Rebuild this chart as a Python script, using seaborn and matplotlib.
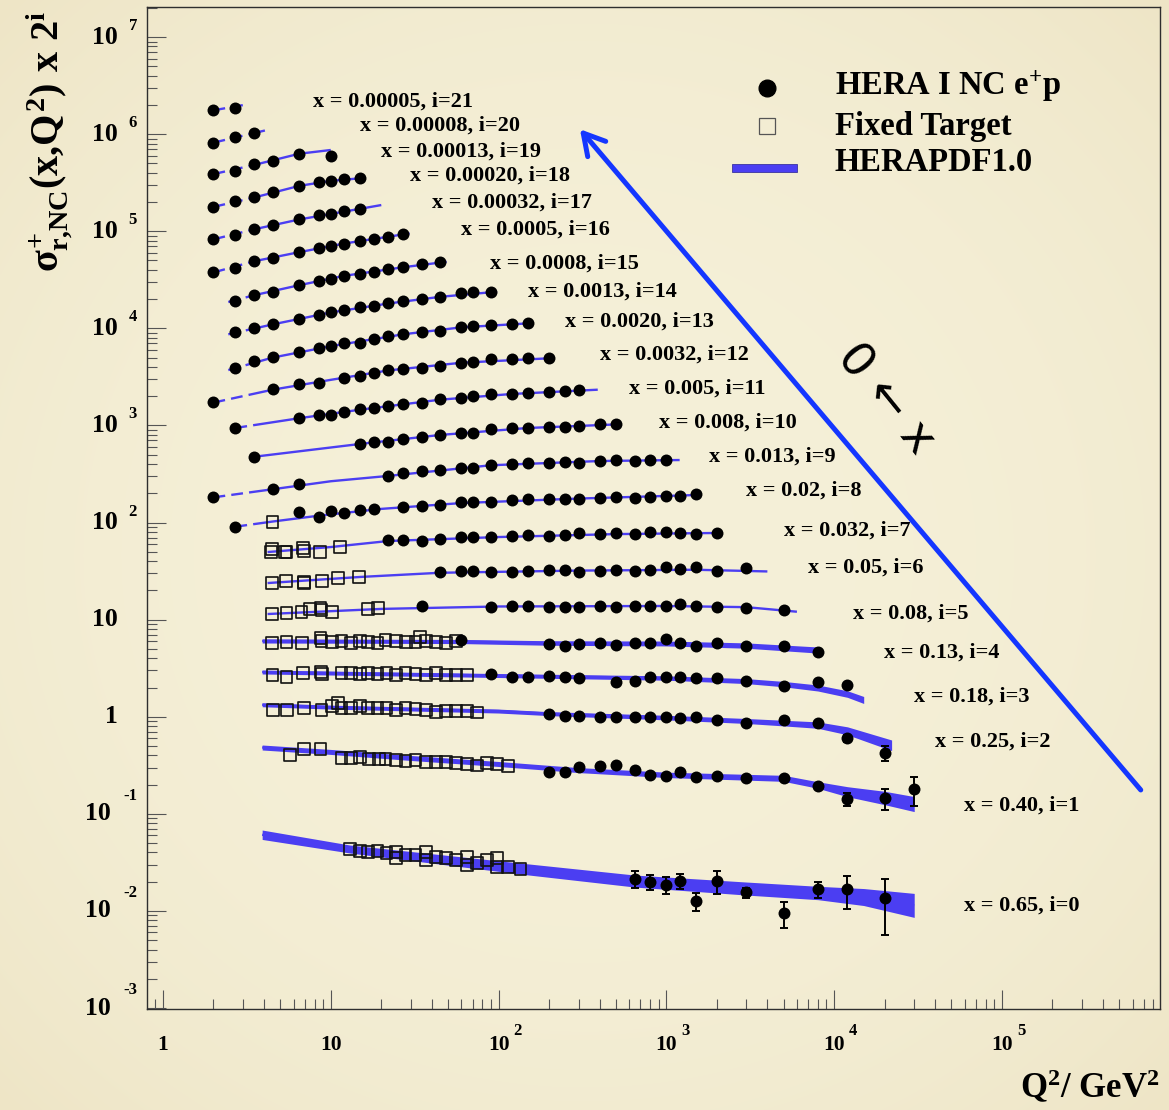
import numpy as np
import pandas as pd
import matplotlib
matplotlib.use("Agg")
import matplotlib.pyplot as plt
import matplotlib.transforms as mtransforms
from matplotlib.patches import Rectangle
from matplotlib.ticker import LogLocator, NullFormatter, FixedLocator
import seaborn as sns

# ---------------------------------------------------------------------------
# Bjorken-x of each bin, keyed by the scale index i (plotted value = sigma * 2**i)
X_BINS = {21: "0.00005", 20: "0.00008", 19: "0.00013", 18: "0.00020", 17: "0.00032",
          16: "0.0005", 15: "0.0008", 14: "0.0013", 13: "0.0020", 12: "0.0032",
          11: "0.005", 10: "0.008", 9: "0.013", 8: "0.02", 7: "0.032", 6: "0.05",
          5: "0.08", 4: "0.13", 3: "0.18", 2: "0.25", 1: "0.40", 0: "0.65"}

# HERA I NC e+p reduced cross sections: Q2 (GeV^2) and sigma_r
HERA_Q2 = {
    21: [2.0, 2.7],
    20: [2.0, 2.7, 3.5],
    19: [2.0, 2.7, 3.5, 4.5, 6.5, 10],
    18: [2.0, 2.7, 3.5, 4.5, 6.5, 8.5, 10, 12, 15],
    17: [2.0, 2.7, 3.5, 4.5, 6.5, 8.5, 10, 12, 15],
    16: [2.0, 2.7, 3.5, 4.5, 6.5, 8.5, 10, 12, 15, 18, 22, 27],
    15: [2.7, 3.5, 4.5, 6.5, 8.5, 10, 12, 15, 18, 22, 27, 35, 45],
    14: [2.7, 3.5, 4.5, 6.5, 8.5, 10, 12, 15, 18, 22, 27, 35, 45, 60, 70, 90],
    13: [2.7, 3.5, 4.5, 6.5, 8.5, 10, 12, 15, 18, 22, 27, 35, 45, 60, 70, 90, 120, 150],
    12: [2.0, 4.5, 6.5, 8.5, 12, 15, 18, 22, 27, 35, 45, 60, 70, 90, 120, 150, 200],
    11: [2.7, 6.5, 8.5, 10, 12, 15, 18, 22, 27, 35, 45, 60, 70, 90, 120, 150, 200, 250, 300],
    10: [3.5, 15, 18, 22, 27, 35, 45, 60, 70, 90, 120, 150, 200, 250, 300, 400, 500],
    9: [2.0, 4.5, 6.5, 22, 27, 35, 45, 60, 70, 90, 120, 150, 200, 250, 300, 400, 500, 650,
        800, 1000],
    8: [2.7, 6.5, 8.5, 10, 12, 15, 18, 27, 35, 45, 60, 70, 90, 120, 150, 200, 250, 300, 400,
        500, 650, 800, 1000, 1200, 1500],
    7: [22, 27, 35, 45, 60, 70, 90, 120, 150, 200, 250, 300, 400, 500, 650, 800, 1000, 1200,
        1500, 2000],
    6: [45, 60, 70, 90, 120, 150, 200, 250, 300, 400, 500, 650, 800, 1000, 1200, 1500, 2000,
        3000],
    5: [35, 90, 120, 150, 200, 250, 300, 400, 500, 650, 800, 1000, 1200, 1500, 2000, 3000,
        5000],
    4: [60, 200, 250, 300, 400, 500, 650, 800, 1000, 1200, 1500, 2000, 3000, 5000, 8000],
    3: [90, 120, 150, 200, 250, 300, 500, 650, 800, 1000, 1200, 1500, 2000, 3000, 5000, 8000,
        12000],
    2: [200, 250, 300, 400, 500, 650, 800, 1000, 1200, 1500, 2000, 3000, 5000, 8000, 12000,
        20000],
    1: [200, 250, 300, 400, 500, 650, 800, 1000, 1200, 1500, 2000, 3000, 5000, 8000, 12000,
        20000, 30000],
    0: [650, 800, 1000, 1200, 1500, 2000, 3000, 5000, 8000, 12000, 20000],
}
HERA_SIGMA = {
    21: [0.845, 0.886],
    20: [0.772, 0.891, 0.979],
    19: [0.740, 0.794, 0.938, 1.007, 1.189, 1.134],
    18: [0.682, 0.782, 0.853, 0.967, 1.122, 1.218, 1.256, 1.307, 1.339],
    17: [0.634, 0.697, 0.798, 0.884, 1.012, 1.112, 1.140, 1.233, 1.300],
    16: [0.575, 0.641, 0.752, 0.802, 0.925, 1.016, 1.081, 1.135, 1.218, 1.276, 1.339, 1.416],
    15: [0.588, 0.668, 0.718, 0.853, 0.938, 0.984, 1.057, 1.107, 1.169, 1.239, 1.298, 1.403,
         1.472],
    14: [0.564, 0.611, 0.671, 0.762, 0.837, 0.893, 0.942, 1.019, 1.035, 1.104, 1.167, 1.224,
         1.291, 1.400, 1.445, 1.434],
    13: [0.480, 0.566, 0.614, 0.690, 0.760, 0.802, 0.855, 0.867, 0.946, 1.016, 1.059, 1.109,
         1.153, 1.250, 1.288, 1.318, 1.343, 1.374],
    12: [0.422, 0.574, 0.646, 0.671, 0.755, 0.787, 0.839, 0.908, 0.923, 0.957, 1.005, 1.079,
         1.104, 1.169, 1.190, 1.197, 1.203],
    11: [0.456, 0.586, 0.625, 0.625, 0.667, 0.716, 0.743, 0.774, 0.805, 0.838, 0.908, 0.942,
         0.989, 1.021, 1.028, 1.047, 1.086, 1.104, 1.132],
    10: [0.465, 0.628, 0.654, 0.654, 0.703, 0.746, 0.778, 0.822, 0.809, 0.891, 0.912, 0.925,
         0.933, 0.946, 0.964, 1.002, 1.002],
    9: [0.355, 0.429, 0.483, 0.588, 0.635, 0.662, 0.678, 0.706, 0.706, 0.764, 0.782, 0.794,
        0.794, 0.813, 0.805, 0.839, 0.859, 0.839, 0.859, 0.859],
    8: [0.354, 0.498, 0.449, 0.518, 0.486, 0.526, 0.535, 0.569, 0.582, 0.592, 0.631, 0.640,
        0.640, 0.667, 0.678, 0.682, 0.682, 0.687, 0.705, 0.721, 0.705, 0.721, 0.741, 0.733,
        0.760],
    7: [0.516, 0.516, 0.507, 0.528, 0.550, 0.558, 0.550, 0.571, 0.581, 0.571, 0.581, 0.605,
        0.594, 0.605, 0.594, 0.619, 0.619, 0.610, 0.594, 0.610],
    6: [0.480, 0.498, 0.498, 0.480, 0.480, 0.498, 0.506, 0.506, 0.486, 0.498, 0.506, 0.498,
        0.506, 0.540, 0.515, 0.540, 0.494, 0.527],
    5: [0.435, 0.425, 0.432, 0.435, 0.419, 0.419, 0.425, 0.432, 0.425, 0.435, 0.435, 0.435,
        0.450, 0.435, 0.419, 0.415, 0.393],
    4: [0.385, 0.348, 0.334, 0.348, 0.356, 0.342, 0.356, 0.356, 0.392, 0.361, 0.334, 0.361,
        0.337, 0.337, 0.292],
    3: [0.341, 0.323, 0.323, 0.328, 0.318, 0.315, 0.282, 0.294, 0.318, 0.323, 0.323, 0.315,
        0.310, 0.294, 0.261, 0.286, 0.265],
    2: [0.264, 0.256, 0.256, 0.250, 0.250, 0.246, 0.250, 0.250, 0.244, 0.250, 0.231, 0.214,
        0.231, 0.217, 0.150, 0.107],
    1: [0.134, 0.136, 0.151, 0.156, 0.159, 0.141, 0.126, 0.123, 0.134, 0.121, 0.124, 0.118,
        0.118, 0.0975, 0.0706, 0.0723, 0.0895],
    0: [0.0213, 0.0200, 0.0185, 0.0205, 0.0127, 0.0203, 0.0155, 0.00957, 0.0167, 0.0167,
        0.0135],
}
# total uncertainties where they exceed the marker size
HERA_ERR = {
    2: [0, 0, 0, 0, 0, 0, 0, 0, 0, 0, 0, 0, 0, 0, 0.013, 0.019],
    1: [0, 0, 0, 0, 0, 0, 0, 0, 0, 0, 0, 0, 0, 0.005, 0.0105, 0.018, 0.029],
    0: [0.0042, 0.0034, 0.0036, 0.0037, 0.0026, 0.0054, 0.0018, 0.0029, 0.0032, 0.0063,
        0.0078],
}

# Fixed-target (BCDMS / NMC) measurements
FT_Q2 = {
    8: [4.5],
    7: [4.38, 4.47, 5.32, 5.45, 6.84, 6.91, 8.60, 11.4],
    6: [4.44, 5.40, 6.91, 6.93, 8.88, 11.1, 14.7],
    5: [4.45, 5.45, 6.69, 7.50, 8.68, 8.80, 10.2, 16.7, 19.1],
    4: [4.45, 5.45, 6.77, 8.68, 8.80, 10.2, 11.6, 13.2, 14.9, 16.7, 19.0, 21.2, 24.4, 28.2,
        32.0, 34.2, 37.1, 42.6, 48.8, 56.0],
    3: [4.50, 5.45, 6.84, 8.72, 8.88, 11.6, 13.2, 14.9, 16.7, 19.0, 21.5, 24.4, 27.9, 32.0,
        37.1, 42.6, 48.8, 56.0, 65.1],
    2: [4.52, 5.47, 6.91, 8.80, 10.2, 11.1, 11.6, 13.2, 14.9, 16.7, 19.0, 21.5, 24.4, 27.9,
        32.0, 37.1, 42.6, 48.8, 56.0, 65.1, 74.7],
    1: [5.70, 6.91, 8.68, 11.6, 13.2, 14.9, 16.9, 19.4, 21.2, 24.4, 27.9, 32.0, 37.1, 42.6,
        48.8, 56.0, 65.1, 74.7, 85.7, 98.3, 114],
    0: [13.0, 14.9, 16.7, 19.0, 21.5, 24.4, 24.4, 27.9, 32.0, 37.1, 37.1, 42.6, 48.8, 56.0,
        65.1, 65.1, 74.7, 85.7, 98.3, 98.3, 114, 135],
}
FT_SIGMA = {
    8: [0.393],
    7: [0.385, 0.414, 0.391, 0.385, 0.424, 0.400, 0.385, 0.441],
    6: [0.375, 0.393, 0.384, 0.375, 0.390, 0.422, 0.426],
    5: [0.355, 0.368, 0.377, 0.399, 0.409, 0.393, 0.377, 0.403, 0.409],
    4: [0.361, 0.365, 0.356, 0.401, 0.379, 0.370, 0.379, 0.361, 0.379, 0.370, 0.361, 0.385,
        0.379, 0.370, 0.370, 0.417, 0.379, 0.370, 0.361, 0.379],
    3: [0.336, 0.318, 0.350, 0.363, 0.344, 0.350, 0.350, 0.344, 0.350, 0.344, 0.350, 0.336,
        0.355, 0.344, 0.336, 0.355, 0.336, 0.336, 0.336],
    2: [0.293, 0.293, 0.305, 0.293, 0.322, 0.348, 0.309, 0.309, 0.322, 0.305, 0.305, 0.305,
        0.293, 0.309, 0.300, 0.293, 0.281, 0.286, 0.286, 0.286, 0.277],
    1: [0.202, 0.231, 0.231, 0.189, 0.189, 0.191, 0.184, 0.184, 0.182, 0.179, 0.176, 0.179,
        0.172, 0.170, 0.170, 0.166, 0.163, 0.157, 0.166, 0.162, 0.156],
    0: [0.0431, 0.0417, 0.0401, 0.0414, 0.0392, 0.0401, 0.0348, 0.0377, 0.0377, 0.0407,
        0.0334, 0.0361, 0.0348, 0.0334, 0.0361, 0.0297, 0.0309, 0.0334, 0.0348, 0.0285,
        0.0285, 0.0270],
}

# HERAPDF1.0 prediction: Q2 nodes, central sigma_r and relative band half-width (%)
FIT_Q2 = {
    21: [2.0, 3.0],
    20: [2.0, 4.05],
    19: [2.0, 3.5, 6.5, 10],
    18: [2.0, 3.5, 6.5, 10, 15],
    17: [2.0, 3.5, 6.5, 10, 20],
    16: [2.0, 3.5, 6.5, 12, 29.5],
    15: [2.45, 3.5, 6.5, 12, 27, 49],
    14: [2.45, 4.5, 10, 22, 45, 98],
    13: [2.45, 4.5, 10, 27, 60, 160],
    12: [2.0, 4.5, 10, 22, 60, 200],
    11: [2.7, 6.5, 15, 45, 120, 390],
    10: [3.5, 15, 45, 150, 500],
    9: [2.0, 4.5, 10, 22, 90, 400, 1200],
    8: [2.7, 4.5, 8.5, 20, 60, 300, 1500],
    7: [4.2, 10, 22, 100, 500, 2000],
    6: [4.2, 15, 45, 300, 1500, 4000],
    5: [4.2, 20, 100, 1000, 3000, 6000],
    4: [3.9, 60, 200, 1000, 3000, 8000],
    3: [3.9, 100, 1000, 3000, 5000, 8000, 12000, 15000],
    2: [3.9, 10, 100, 200, 1000, 3000, 5000, 8000, 12000, 22000],
    1: [3.9, 10, 30, 100, 300, 1000, 5000, 8000, 12000, 20000, 30000],
    0: [3.9, 13, 135, 650, 3000, 8000, 15000, 30000],
}
FIT_SIGMA = {
    21: [0.84, 0.95],
    20: [0.78, 1.04],
    19: [0.74, 0.92, 1.20, 1.31],
    18: [0.68, 0.85, 1.12, 1.26, 1.34],
    17: [0.63, 0.80, 1.01, 1.15, 1.42],
    16: [0.575, 0.75, 0.93, 1.14, 1.45],
    15: [0.57, 0.67, 0.85, 1.06, 1.30, 1.48],
    14: [0.53, 0.67, 0.89, 1.10, 1.29, 1.455],
    13: [0.454, 0.61, 0.80, 1.06, 1.25, 1.383],
    12: [0.42, 0.57, 0.72, 0.90, 1.08, 1.20],
    11: [0.46, 0.58, 0.71, 0.90, 1.03, 1.14],
    10: [0.465, 0.63, 0.78, 0.92, 1.0],
    9: [0.355, 0.43, 0.52, 0.59, 0.76, 0.84, 0.86],
    8: [0.354, 0.40, 0.46, 0.54, 0.62, 0.69, 0.75],
    7: [0.388, 0.437, 0.504, 0.554, 0.594, 0.610],
    6: [0.372, 0.43, 0.475, 0.50, 0.51, 0.49],
    5: [0.357, 0.403, 0.427, 0.432, 0.42, 0.377],
    4: [0.377, 0.372, 0.359, 0.355, 0.338, 0.304],
    3: [0.361, 0.332, 0.313, 0.291, 0.271, 0.247, 0.214, 0.186],
    2: [0.332, 0.314, 0.286, 0.269, 0.245, 0.226, 0.215, 0.205, 0.179, 0.127],
    1: [0.241, 0.217, 0.188, 0.163, 0.141, 0.126, 0.116, 0.099, 0.0845, 0.0728, 0.063],
    0: [0.0609, 0.0434, 0.0273, 0.0203, 0.0170, 0.0153, 0.0139, 0.0114],
}
FIT_REL = {
    4: [5.0, 5.0, 5.5, 6.0, 6.5, 7.5],
    3: [4.8, 4.8, 5.3, 6.1, 6.6, 7.4, 8.1, 8.6],
    2: [4.8, 4.8, 4.8, 4.8, 5.6, 6.1, 6.9, 7.9, 9.9, 13.4],
    1: [6.1, 6.1, 6.1, 6.1, 6.1, 6.6, 7.4, 8.1, 12.6, 17.2, 19.5],
    0: [11.8, 9.9, 13.9, 15.3, 16.7, 17.2, 22.3, 32.9],
}
Q2_MIN_FIT = 3.5  # prediction drawn dashed below the fitted Q2 range

# ---------------------------------------------------------------------------
sns.set_style("ticks")
plt.rcParams["font.family"] = ["Liberation Serif", "DejaVu Sans"]
plt.rcParams["font.weight"] = "bold"
plt.rcParams["text.color"] = "black"
plt.rcParams["mathtext.fontset"] = "custom"
for key in ("rm", "it", "bf", "sf"):
    plt.rcParams[f"mathtext.{key}"] = "Liberation Serif:bold"

BAND = "#4b3ef2"
BG = "#f3ecd2"
W, H = 1169, 1110

fig = plt.figure(figsize=(W / 100, H / 100), dpi=100, facecolor=BG)

# parchment-like soft vignette behind everything
yy, xx = np.mgrid[0:H, 0:W]
rr = np.hypot((xx - W / 2) / (W / 2), (yy - H / 2) / (H / 2)) / np.sqrt(2)
tt = np.clip(rr, 0, 1) ** 2.6
c_in = np.array([245, 240, 216]) / 255
c_out = np.array([238, 229, 198]) / 255
fig.figimage(c_in + (c_out - c_in) * tt[..., None], 0, 0, zorder=-10)

ax = fig.add_axes([147 / W, (H - 1009) / H, (1160 - 147) / W, (1009 - 7) / H])
ax.set_facecolor("none")
ax.set_xscale("log")
ax.set_yscale("log")
ax.set_xlim(0.803, 8.75e5)
ax.set_ylim(9.77e-4, 2.04e7)

# --- long-format tables -----------------------------------------------------
hera = pd.DataFrame(
    [dict(i=i, Q2=q, sigma=s, err=HERA_ERR.get(i, [0] * len(HERA_Q2[i]))[k])
     for i in HERA_Q2 for k, (q, s) in enumerate(zip(HERA_Q2[i], HERA_SIGMA[i]))])
hera["y"] = hera["sigma"] * 2.0 ** hera["i"]
hera["yerr"] = hera["err"] * 2.0 ** hera["i"]

ft = pd.DataFrame([dict(i=i, Q2=q, sigma=s)
                   for i in FT_Q2 for q, s in zip(FT_Q2[i], FT_SIGMA[i])])
ft["y"] = ft["sigma"] * 2.0 ** ft["i"]

# --- HERAPDF1.0 curves / bands ---------------------------------------------
ymin, ymax = ax.get_ylim()
for i in FIT_Q2:
    q = np.array(FIT_Q2[i], dtype=float)
    s = np.array(FIT_SIGMA[i]) * 2.0 ** i
    if i in FIT_REL:
        r = np.array(FIT_REL[i]) / 100.0
        ax.fill_between(q, s / (1 + r), s * (1 + r), color=BAND, lw=0, zorder=2)
    solid_clip = Rectangle((Q2_MIN_FIT, ymin), 1e7, ymax, transform=ax.transData)
    dash_clip = Rectangle((0.5, ymin), Q2_MIN_FIT - 0.5, ymax, transform=ax.transData)
    (l1,) = ax.plot(q, s, color=BAND, lw=1.7, zorder=2.2, solid_capstyle="butt")
    l1.set_clip_path(solid_clip)
    (l2,) = ax.plot(q, s, color=BAND, lw=1.7, zorder=2.2, dashes=(5.0, 2.6))
    l2.set_clip_path(dash_clip)

# --- data ---------------------------------------------------------------------
sns.scatterplot(data=ft, x="Q2", y="y", marker="s", s=72, facecolor="none",
                edgecolor="#111111", linewidth=1.2, ax=ax, zorder=4, legend=False)
eb = hera[hera["err"] > 0]
ax.errorbar(eb["Q2"], eb["y"], yerr=eb["yerr"], fmt="none", ecolor="black",
            elinewidth=1.4, capsize=3.2, capthick=1.4, zorder=4.5)
sns.scatterplot(data=hera, x="Q2", y="y", color="black", s=74, linewidth=0,
                ax=ax, zorder=5, legend=False)
ax.set_xlabel("")
ax.set_ylabel("")

# --- axes styling -------------------------------------------------------------
for sp in ax.spines.values():
    sp.set_color("#2e2e2e")
    sp.set_linewidth(1.0)
    sp.set_visible(True)
ax.xaxis.set_major_locator(FixedLocator([1, 10, 1e2, 1e3, 1e4, 1e5]))
ax.yaxis.set_major_locator(FixedLocator([10.0 ** k for k in range(-3, 8)]))
ax.xaxis.set_minor_locator(LogLocator(base=10, subs=np.arange(2, 10), numticks=100))
ax.yaxis.set_minor_locator(LogLocator(base=10, subs=np.arange(2, 10), numticks=100))
ax.xaxis.set_minor_formatter(NullFormatter())
ax.yaxis.set_minor_formatter(NullFormatter())
ax.tick_params(which="both", direction="in", top=False, right=False,
               labelbottom=False, labelleft=False, color="#555555", width=0.8)
ax.tick_params(which="major", length=13.5)
ax.tick_params(which="minor", length=7)

# ROOT-style tick labels: "10" with a raised exponent
ytr = ax.get_yaxis_transform()
for k in range(-3, 8):
    v = 10.0 ** k
    if k == 0 or k == 1:
        t = mtransforms.offset_copy(ytr, fig=fig, x=-29, y=0, units="dots")
        ax.text(0, v, "1" if k == 0 else "10", transform=t, ha="right", va="center",
                fontsize=18.5, clip_on=False)
        continue
    neg = k < 0
    t = mtransforms.offset_copy(ytr, fig=fig, x=-36 if neg else -29, y=0, units="dots")
    ax.text(0, v, "10", transform=t, ha="right", va="center", fontsize=18.5, clip_on=False)
    t2 = mtransforms.offset_copy(ytr, fig=fig, x=-10, y=18 if neg else 11, units="dots")
    ax.text(0, v, f"{k}", transform=t2, ha="right", va="center", fontsize=12,
            clip_on=False)

xtr = ax.get_xaxis_transform()
for k in range(0, 6):
    v = 10.0 ** k
    t = mtransforms.offset_copy(xtr, fig=fig, x=0, y=-36, units="dots")
    ax.text(v, 0, "1" if k == 0 else "10", transform=t, ha="center", va="center",
            fontsize=15.5, clip_on=False)
    if k >= 2:
        t2 = mtransforms.offset_copy(xtr, fig=fig, x=15, y=-22, units="dots")
        ax.text(v, 0, f"{k}", transform=t2, ha="left", va="center", fontsize=12,
                clip_on=False)

fig.text(1160 / W, (H - 1098) / H, r"Q$^{2}$/ GeV$^{2}$", ha="right", va="baseline",
         fontsize=25)
fig.text(50 / W, (H - 141) / H, r"$\sigma^{+}_{r{,}NC}(x{,}Q^{2})\ x\ 2^{i}$",
         rotation=90, ha="center", va="center", fontsize=29)

# --- bin labels ---------------------------------------------------------------
LABEL_XY = {21: (0.164, 0.906), 20: (0.210, 0.882), 19: (0.231, 0.856), 18: (0.260, 0.832),
            17: (0.281, 0.805), 16: (0.310, 0.778), 15: (0.339, 0.744), 14: (0.376, 0.716),
            13: (0.413, 0.686), 12: (0.447, 0.653), 11: (0.476, 0.619), 10: (0.505, 0.585),
            9: (0.555, 0.551), 8: (0.591, 0.517), 7: (0.629, 0.477), 6: (0.653, 0.441),
            5: (0.697, 0.395), 4: (0.728, 0.356), 3: (0.757, 0.312), 2: (0.778, 0.267),
            1: (0.807, 0.203), 0: (0.807, 0.103)}
for i, xs in X_BINS.items():
    fx, fy = LABEL_XY[i]
    ax.text(fx, fy, f"x = {xs}, i={i}", transform=ax.transAxes, ha="left",
            va="center", fontsize=16)

# --- legend -------------------------------------------------------------------
ax.plot([0.612], [0.919], "o", color="black", ms=12, transform=ax.transAxes, zorder=6)
ax.plot([0.612], [0.881], "s", mfc="none", mec="#555555", mew=0.9, ms=12,
        transform=ax.transAxes, zorder=6)
ax.add_patch(Rectangle((0.5775, 0.835), 0.0642, 0.008, transform=ax.transAxes,
                       facecolor=BAND, edgecolor="#3a34a0", lw=0.6, zorder=6))
ax.text(0.679, 0.921, r"HERA I NC e$^{+}$p", transform=ax.transAxes, ha="left",
        va="center", fontsize=23.5)
ax.text(0.679, 0.881, "Fixed Target", transform=ax.transAxes, ha="left",
        va="center", fontsize=23.5)
ax.text(0.679, 0.845, "HERAPDF1.0", transform=ax.transAxes, ha="left",
        va="center", fontsize=23.5)

# --- "x -> 0" direction arrow ------------------------------------------------
ax.annotate("", xy=(0.4274, 0.878), xytext=(0.981, 0.2186), xycoords="axes fraction",
            arrowprops=dict(arrowstyle="->, head_length=15, head_width=8.5",
                            mutation_scale=1, color="#1436ff", lw=3.6,
                            shrinkA=0, shrinkB=0), zorder=6)
ax.text(0.7285, 0.608, "0 \u2190 x", transform=ax.transAxes, rotation=-51,
        rotation_mode="anchor", ha="center", va="center", fontsize=34,
        family="DejaVu Sans", weight="normal", color="black")

fig.savefig("out.png", dpi=100, facecolor=fig.get_facecolor())
